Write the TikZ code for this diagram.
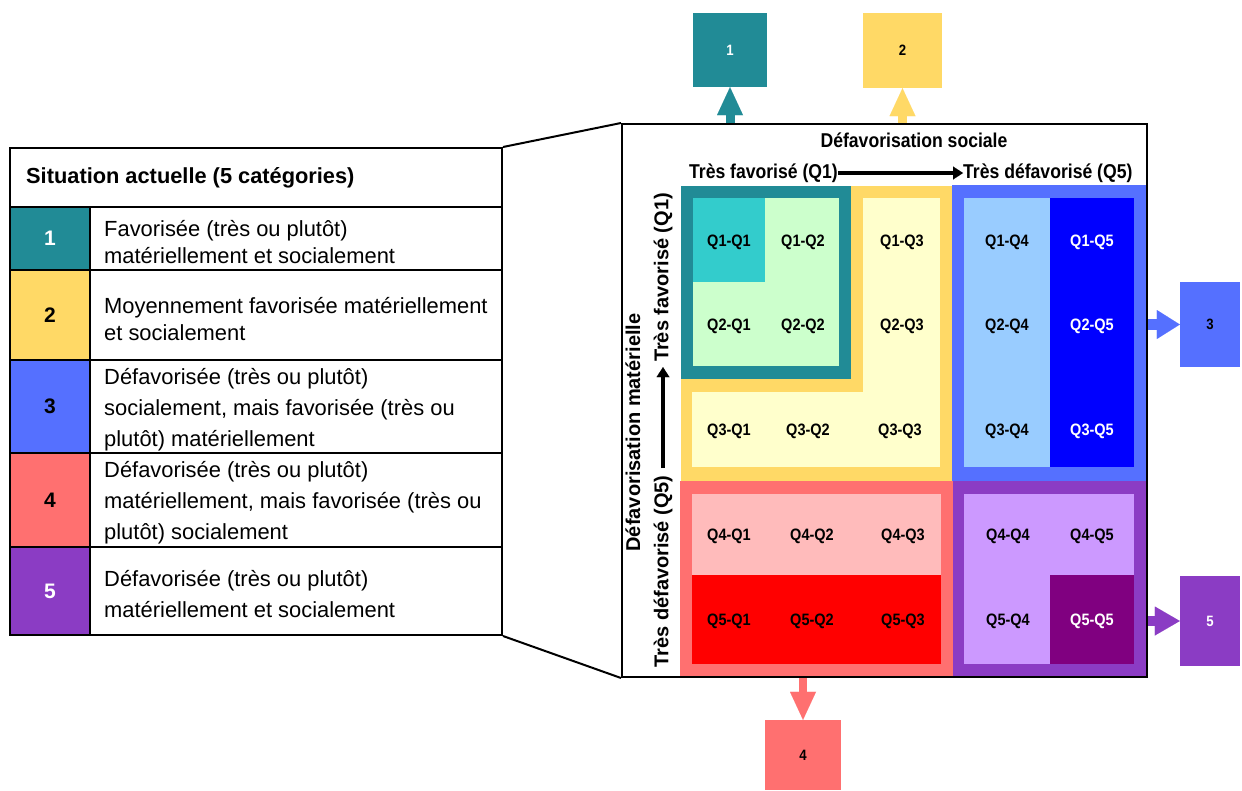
\documentclass[tikz,border=0pt]{standalone}
\usepackage{fontspec}
\setmainfont{Liberation Sans}
\newfontfamily\cond[FakeStretch=0.88]{Liberation Sans}
\usetikzlibrary{arrows.meta}
\definecolor{cTeal}{HTML}{218B96}
\definecolor{cCyan}{HTML}{33CCCC}
\definecolor{cLGreen}{HTML}{CCFFCC}
\definecolor{cYel}{HTML}{FFD966}
\definecolor{cLYel}{HTML}{FFFFCC}
\definecolor{cBlue}{HTML}{5570FF}
\definecolor{cLBlue}{HTML}{99CCFF}
\definecolor{cDBlue}{HTML}{0000FF}
\definecolor{cRed}{HTML}{FF7070}
\definecolor{cPink}{HTML}{FFBBBB}
\definecolor{cDRed}{HTML}{FF0000}
\definecolor{cPurp}{HTML}{8B3CC4}
\definecolor{cLav}{HTML}{CC99FF}
\definecolor{cDPurp}{HTML}{800080}
\begin{document}
\begin{tikzpicture}[x=1pt,y=-1pt,
  lab/.style={inner sep=0pt, font=\cond\bfseries\fontsize{16.5}{18}\selectfont},
  labw/.style={lab, text=white},
  axis/.style={inner sep=0pt, font=\cond\bfseries\fontsize{20}{22}\selectfont},
  vaxis/.style={inner sep=0pt, rotate=90, font=\bfseries\fontsize{20}{22}\selectfont},
  catbox/.style={inner sep=0pt, font=\cond\bfseries\fontsize{15}{17}\selectfont},
  axarrow/.style={line width=4pt, -{Triangle[length=10pt, width=13pt, line width=0.01pt]}},
  blockarrow/.style n args={4}{draw=#1, line width=#2, -{Triangle[length=#3, width=#4, line width=0.01pt]}},
  ncell/.style={draw=black, line width=2pt, minimum width=80pt, inner sep=0pt, font=\bfseries\fontsize{21}{23}\selectfont},
  tcell/.style={draw=black, line width=2pt, minimum width=412pt, inner sep=0pt},
  ltext/.style={anchor=west, inner sep=0pt, align=left, font=\fontsize{21.9}{#1}\selectfont},
  ltext/.default=27
]
\useasboundingbox (0,0) rectangle (1242,790);
\fill[white] (0,0) rectangle (1242,790);

% ---------------- legend ----------------
\node[draw, line width=2pt, minimum width=492pt, minimum height=59pt, inner sep=0pt] (lhead) at (256,177.5) {};
\node[anchor=west, inner sep=0pt, font=\bfseries\fontsize{21.8}{24}\selectfont] (htxt) at (26,178) {Situation actuelle (5 catégories)};

\node[tcell, minimum height=63pt] (c1) at (296,238.5) {};
\node[ncell, fill=cTeal, minimum height=63pt, text=white] (n1) at (50,238.5) {1};
\node[ltext] (t1) at (104,242) {Favorisée (très ou plutôt)\\matériellement et socialement};

\node[tcell, minimum height=90pt] (c2) at (296,315) {};
\node[ncell, fill=cYel, minimum height=90pt] (n2) at (50,315) {2};
\node[ltext] (t2) at (104,319) {Moyennement favorisée matériellement\\et socialement};

\node[tcell, minimum height=93pt] (c3) at (296,406.5) {};
\node[ncell, fill=cBlue, minimum height=93pt] (n3) at (50,406.5) {3};
\node[ltext=31] (t3) at (104,410) {Défavorisée (très ou plutôt)\\socialement, mais favorisée (très ou\\plutôt) matériellement};

\node[tcell, minimum height=94pt] (c4) at (296,500) {};
\node[ncell, fill=cRed, minimum height=94pt] (n4) at (50,500) {4};
\node[ltext=31] (t4) at (104,503) {Défavorisée (très ou plutôt)\\matériellement, mais favorisée (très ou\\plutôt) socialement};

\node[tcell, minimum height=88pt] (c5) at (296,591) {};
\node[ncell, fill=cPurp, minimum height=88pt, text=white] (n5) at (50,591) {5};
\node[ltext=31] (t5) at (104,594) {Défavorisée (très ou plutôt)\\matériellement et socialement};

% ---------------- matrix regions ----------------
\fill[cYel] (681,186) rectangle (953,481);
\fill[cLYel] (863,198) rectangle (940,392);
\fill[cLYel] (692,392) rectangle (940,467);
\fill[cTeal] (681,186) rectangle (851,379);
\fill[cLGreen] (693,198) rectangle (839,366);
\fill[cCyan] (693,198) rectangle (765,282);
\fill[cBlue] (952,185) rectangle (1147,481);
\fill[cLBlue] (964,198) rectangle (1050,467);
\fill[cDBlue] (1050,198) rectangle (1134,467);
\fill[cRed] (680,481) rectangle (953,676);
\fill[cPink] (692,494) rectangle (941,575);
\fill[cDRed] (692,575) rectangle (941,664);
\fill[cPurp] (953,481) rectangle (1147,676);
\fill[cLav] (964,494) rectangle (1134,664);
\fill[cDPurp] (1050,575) rectangle (1134,664);

% frame
\node[draw, line width=2pt, minimum width=525pt, minimum height=553pt, inner sep=0pt] (frame) at (884.5,400.5) {};
\draw[line width=2pt] (lhead.north east) -- (frame.north west);
\draw[line width=2pt] (c5.south east) -- (frame.south west);

% labels
\node[lab] (q11) at (729,242) {Q1-Q1};
\node[lab] (q12) at (803,242) {Q1-Q2};
\node[lab] (q13) at (902,242) {Q1-Q3};
\node[lab] (q14) at (1007,242) {Q1-Q4};
\node[labw] (q15) at (1092,242) {Q1-Q5};
\node[lab] (q21) at (729,326) {Q2-Q1};
\node[lab] (q22) at (803,326) {Q2-Q2};
\node[lab] (q23) at (902,326) {Q2-Q3};
\node[lab] (q24) at (1007,326) {Q2-Q4};
\node[labw] (q25) at (1092,326) {Q2-Q5};
\node[lab] (q31) at (729,431) {Q3-Q1};
\node[lab] (q32) at (808,431) {Q3-Q2};
\node[lab] (q33) at (900,431) {Q3-Q3};
\node[lab] (q34) at (1007,431) {Q3-Q4};
\node[labw] (q35) at (1092,431) {Q3-Q5};
\node[lab] (q41) at (729,536) {Q4-Q1};
\node[lab] (q42) at (812,536) {Q4-Q2};
\node[lab] (q43) at (903,536) {Q4-Q3};
\node[lab] (q44) at (1008,536) {Q4-Q4};
\node[lab] (q45) at (1092,536) {Q4-Q5};
\node[lab] (q51) at (729,621) {Q5-Q1};
\node[lab] (q52) at (812,621) {Q5-Q2};
\node[lab] (q53) at (903,621) {Q5-Q3};
\node[lab] (q54) at (1008,621) {Q5-Q4};
\node[labw] (q55) at (1092,621) {Q5-Q5};

% axes
\node[axis] (hsoc) at (914,140) {Défavorisation sociale};
\node[axis, anchor=east] (hfav) at (838,173) {Très favorisé (Q1)};
\node[axis, anchor=west] (hdef) at (963,173) {Très défavorisé (Q5)};
\draw[axarrow] (hfav.east) -- (hdef.west);
\node[vaxis] (vmat) at (633,432.5) {Défavorisation matérielle};
\node[vaxis] (vfav) at (663,277.5) {Très favorisé (Q1)};
\node[vaxis] (vdef) at (663,571.5) {Très défavorisé (Q5)};
\draw[axarrow, shorten <=7pt, shorten >=5pt] (vdef.east) -- (vfav.west);

% category boxes
\node[catbox, fill=cTeal, text=white, minimum width=74pt, minimum height=74pt] (b1) at (730,50) {1};
\node[catbox, fill=cYel, minimum width=79pt, minimum height=75pt] (b2) at (902.5,50.5) {2};
\node[catbox, fill=cBlue, minimum width=60pt, minimum height=85pt] (b3) at (1210,324.5) {3};
\node[catbox, fill=cRed, minimum width=76pt, minimum height=70pt] (b4) at (803,755) {4};
\node[catbox, fill=cPurp, text=white, minimum width=60pt, minimum height=90pt] (b5) at (1210,621) {5};

\draw[blockarrow={cTeal}{9pt}{28pt}{26pt}] (b1.south |- frame.north) -- (b1.south);
\draw[blockarrow={cYel}{9pt}{28pt}{26pt}] (b2.south |- frame.north) -- (b2.south);
\draw[blockarrow={cBlue}{11pt}{23pt}{29pt}] (frame.east |- b3.west) -- (b3.west);
\draw[blockarrow={cPurp}{10pt}{25pt}{29pt}] (frame.east |- b5.west) -- (b5.west);
\draw[blockarrow={cRed}{8pt}{28pt}{26pt}] (b4.north |- frame.south) -- (b4.north);
\end{tikzpicture}
\end{document}
